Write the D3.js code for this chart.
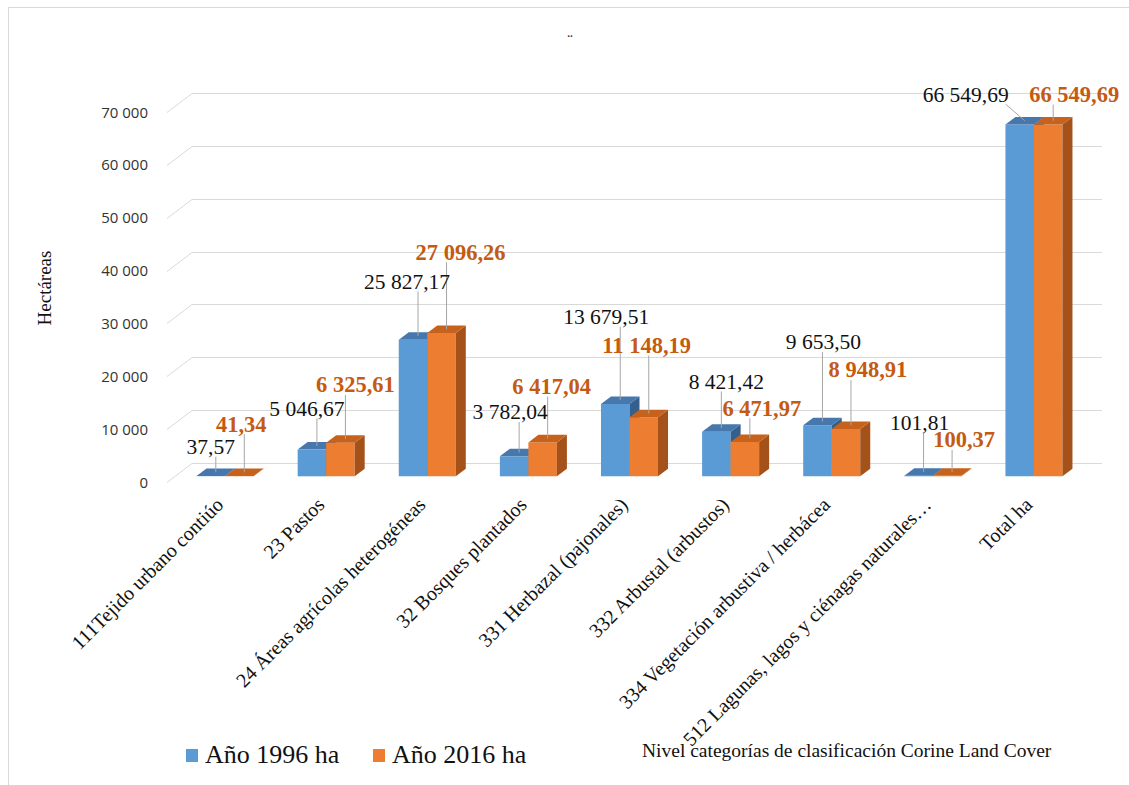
<!DOCTYPE html>
<html>
<head>
<meta charset="utf-8">
<script src="https://cdn.jsdelivr.net/npm/d3@7"></script>
<style>
  html, body { margin: 0; padding: 0; background: #fff; }
  svg { display: block; }
</style>
</head>
<body>
<svg id="chart" width="1129" height="785"></svg>
<script>
// ---------------- data ----------------
const categories = [
  "111Tejido urbano contiúo",
  "23 Pastos",
  "24 Áreas agrícolas heterogéneas",
  "32 Bosques plantados",
  "331 Herbazal (pajonales)",
  "332 Arbustal (arbustos)",
  "334 Vegetación arbustiva / herbácea",
  "512 Lagunas, lagos y ciénagas naturales…",
  "Total ha"
];
const seriesNames = ["Año 1996 ha", "Año 2016 ha"];
const values1996 = [37.57, 5046.67, 25827.17, 3782.04, 13679.51, 8421.42, 9653.50, 101.81, 66549.69];
const values2016 = [41.34, 6325.61, 27096.26, 6417.04, 11148.19, 6471.97, 8948.91, 100.37, 66549.69];
const yTicks = [0, 10000, 20000, 30000, 40000, 50000, 60000, 70000];
const yTitle = "Hectáreas";
const xTitle = "Nivel categorías de clasificación Corine Land Cover";
const chartTitle = "..";

// label placement nudges (pixels from bar top) – layout only
const labelNudge1996 = [[0,-29],[-5,-41],[-6,-58],[-4,-44],[-9,-87],[10,-50],[6,-83],[1,-53],[-54,-30]];
const labelNudge2016 = [[2,-52],[15,-58],[19,-81],[9,-56],[3,-72],[17,-34],[22,-59],[17,-36],[26,-30]];

// ---------------- layout ----------------
const SERIF = "'Liberation Serif', 'Times New Roman', serif";
const SANS = "'Open Sans', 'Liberation Sans', sans-serif";
const svg = d3.select("#chart");
const W = 1129, H = 785;
const X0 = 167, X1 = 1077;          // front plane x extent
const DX = 25, DY = -19;            // wall depth offset
const BF = 0.3, BB = 0.7;           // bar depth fraction (front/back)
const bfx = DX * BF, bfy = DY * BF;
const bdx = DX * (BB - BF), bdy = DY * (BB - BF);

const colors = {
  front: ["#5B9BD5", "#ED7D31"],
  top:   ["#4677AD", "#C7621D"],
  side:  ["#355F8C", "#A4521A"]
};
const labelColors = ["#111111", "#C55A11"];

const loc = d3.formatLocale({decimal: ",", thousands: " ", grouping: [3], currency: ["", ""]});
const fmtVal = loc.format(",.2f");
const fmtTick = loc.format(",.0f");

const y = d3.scaleLinear().domain([0, 70000]).range([482, 112]);
const x = d3.scaleBand().domain(categories).range([X0, X1]).paddingInner(0.436).paddingOuter(0.218);
const xs = d3.scaleBand().domain(seriesNames).range([0, x.bandwidth()]).padding(0);

// background + border
svg.append("rect").attr("width", W).attr("height", H).attr("fill", "#fff");
svg.append("rect").attr("x", 8.5).attr("y", 7.5).attr("width", 1300).attr("height", 1000)
  .attr("fill", "none").attr("stroke", "#d9d9d9").attr("stroke-width", 1);

// title
svg.append("text").attr("x", 570).attr("y", 37).attr("text-anchor", "middle")
  .style("font-family", "'Liberation Sans', Arial, sans-serif").attr("font-size", 10).attr("font-weight", "bold")
  .attr("fill", "#333").text(chartTitle);

// gridlines (back wall + floor diagonal)
const grid = svg.append("g").attr("stroke", "#d9d9d9").attr("stroke-width", 1).attr("fill", "none");
yTicks.forEach(t => {
  const yf = Math.round(y(t)) + 0.5;
  grid.append("path").attr("d", `M${X0},${yf}L${X0 + DX},${yf + DY}L${X1 + DX},${yf + DY}`);
});

// y tick labels
svg.append("g").selectAll("text").data(yTicks).join("text")
  .attr("x", 148).attr("y", d => y(d) + 5.5).attr("text-anchor", "end")
  .style("font-family", SANS).attr("font-size", 15)
  .attr("fill", "#333").text(d => fmtTick(d));

// y title
svg.append("text").attr("transform", "translate(51,288) rotate(-90)").attr("text-anchor", "middle")
  .style("font-family", SERIF).attr("font-size", 19)
  .attr("fill", "#111").text(yTitle);

// bars
const seriesValues = [values1996, values2016];
const bars = svg.append("g");
categories.forEach((c, i) => {
  seriesValues.forEach((vals, s) => {
    const v = vals[i];
    const xl = x(c) + xs(seriesNames[s]) + bfx;
    const xr = xl + xs.bandwidth();
    const yb = y(0) + bfy;
    const yt = y(v) + bfy;
    const g = bars.append("g");
    g.append("path").attr("d", `M${xl},${yt}L${xr},${yt}L${xr},${yb}L${xl},${yb}Z`).attr("fill", colors.front[s]);
    g.append("path").attr("d", `M${xr},${yt}L${xr + bdx},${yt + bdy}L${xr + bdx},${yb + bdy}L${xr},${yb}Z`).attr("fill", colors.side[s]);
    g.append("path").attr("d", `M${xl},${yt}L${xr},${yt}L${xr + bdx},${yt + bdy}L${xl + bdx},${yt + bdy}Z`).attr("fill", colors.top[s]);
  });
});

// data labels + leader lines
const nudges = [labelNudge1996, labelNudge2016];
const leadG = svg.append("g").attr("stroke", "#a6a6a6").attr("stroke-width", 1).attr("fill", "none");
const labG = svg.append("g");
categories.forEach((c, i) => {
  seriesValues.forEach((vals, s) => {
    const v = vals[i];
    const cx = x(c) + xs(seriesNames[s]) + bfx + xs.bandwidth() / 2;
    const ty = y(v) + bfy;
    const fs = s === 0 ? 21.5 : 22.5;
    const lx = cx + nudges[s][i][0];
    const ly = ty + nudges[s][i][1];
    const t = labG.append("text").attr("x", lx).attr("y", ly + fs * 0.33)
      .attr("text-anchor", "middle")
      .style("font-family", SERIF)
      .attr("font-size", fs).attr("font-weight", s === 1 ? "bold" : "normal")
      .attr("fill", labelColors[s]).text(fmtVal(v));
    const w = t.node().getComputedTextLength();
    const tx = cx + bdx / 2, tyy = ty + bdy / 2;
    const sx = Math.max(lx - w / 2 + 3, Math.min(lx + w / 2 - 3, tx));
    const sy = ly + fs * 0.45;
    leadG.append("line").attr("x1", sx).attr("y1", sy).attr("x2", tx).attr("y2", tyy);
  });
});

// category labels
svg.append("g").selectAll("text").data(categories).join("text")
  .attr("transform", d => `translate(${x(d) + x.bandwidth() / 2 + 7},${506}) rotate(-45)`)
  .attr("text-anchor", "end")
  .style("font-family", SERIF).attr("font-size", 20)
  .attr("fill", "#111").text(d => d);

// legend
const leg = svg.append("g");
const legX = [186, 373];
seriesNames.forEach((n, s) => {
  leg.append("rect").attr("x", legX[s]).attr("y", 749).attr("width", 12).attr("height", 13).attr("fill", colors.front[s]);
  leg.append("text").attr("x", legX[s] + 19).attr("y", 763)
    .style("font-family", SERIF).attr("font-size", 26)
    .attr("fill", "#111").text(n);
});

// x title
svg.append("text").attr("x", 642).attr("y", 757)
  .style("font-family", SERIF).attr("font-size", 19.5)
  .attr("fill", "#111").text(xTitle);
</script>
</body>
</html>
